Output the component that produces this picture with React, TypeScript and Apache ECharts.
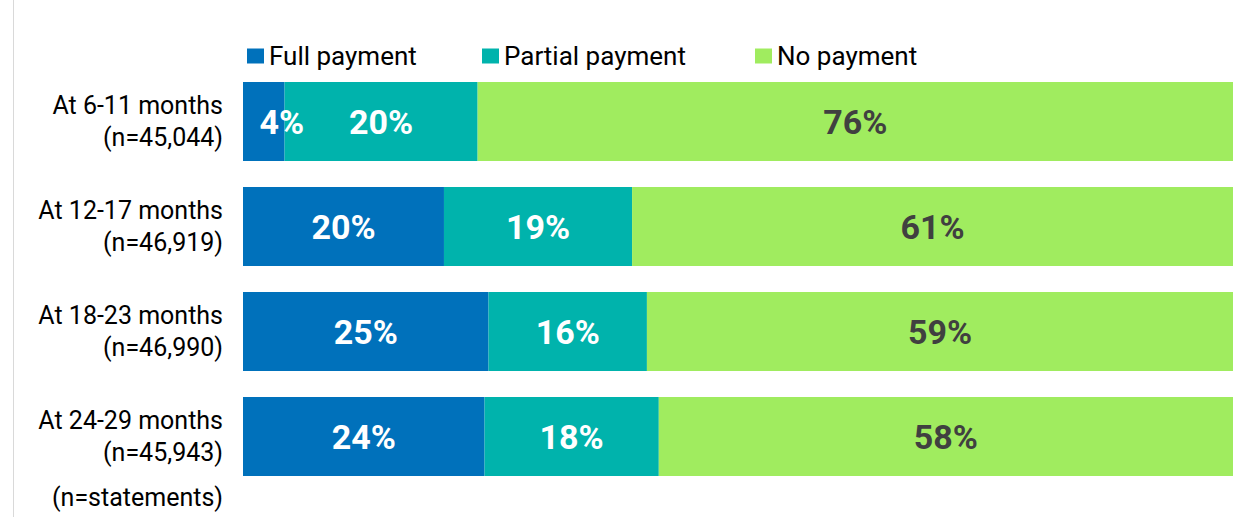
import React, { useEffect, useRef } from "react";
import * as echarts from "echarts";

const categories = [
  "At 6-11 months\n(n=45,044)",
  "At 12-17 months\n(n=46,919)",
  "At 18-23 months\n(n=46,990)",
  "At 24-29 months\n(n=45,943)",
];
const seriesNames = ["Full payment", "Partial payment", "No payment"];
const fullPayment = [4.2, 20.3, 24.8, 24.4];
const partialPayment = [19.5, 19.0, 16.0, 17.6];
const noPayment = [76.3, 60.7, 59.2, 58.0];
const footnote = "(n=statements)";

const colors = ["#0071BB", "#00B3AC", "#A0EC5F"];
const labelColors = ["#FFFFFF", "#FFFFFF", "#404040"];
const legendLefts = [242, 477, 750];
const FONT = "Roboto, 'Liberation Sans', sans-serif";

export default function App() {
  const ref = useRef<HTMLDivElement>(null);
  useEffect(() => {
    if (!ref.current) return;
    const chart = echarts.init(ref.current, null, { renderer: "svg" });
    const values = [fullPayment, partialPayment, noPayment];
    chart.setOption({
      animation: false,
      backgroundColor: "#FFFFFF",
      textStyle: { fontFamily: FONT },
      legend: seriesNames.map((name, i) => ({
        left: legendLefts[i],
        top: 38,
        icon: "rect",
        itemWidth: 17,
        itemHeight: 15,
        textStyle: {
          fontSize: 26,
          color: "#000000",
          fontFamily: FONT,
          padding: [0, 0, 4, 0],
        },
        data: [name],
      })),
      grid: { left: 243, right: 16, top: 69, bottom: 28, containLabel: false },
      xAxis: { type: "value", min: 0, max: 100, show: false },
      yAxis: {
        type: "category",
        data: categories,
        inverse: true,
        axisLine: { show: false },
        axisTick: { show: false },
        splitLine: { show: false },
        axisLabel: {
          fontSize: 25,
          lineHeight: 32,
          color: "#000000",
          margin: 20,
          align: "right",
          fontFamily: FONT,
        },
      },
      graphic: [
        {
          type: "line",
          shape: { x1: 13.5, y1: 0, x2: 13.5, y2: 517 },
          style: { stroke: "#D9D9D9", lineWidth: 1 },
        },
        {
          type: "text",
          x: 223,
          y: 497,
          style: {
            text: footnote,
            fontSize: 25,
            fontFamily: FONT,
            fill: "#000000",
            align: "right",
            verticalAlign: "middle",
          },
        },
      ],
      series: seriesNames.map((name, si) => ({
        name,
        type: "bar",
        stack: "total",
        barWidth: 79,
        itemStyle: { color: colors[si] },
        label: {
          show: true,
          position: "inside",
          color: labelColors[si],
          fontSize: 34,
          fontWeight: "bold",
          fontFamily: FONT,
          formatter: (p: any) => Math.round(p.value) + "%",
        },
        data: values[si].map((v, i) =>
          si === 0 && i === 0 ? { value: v, label: { offset: [18, 0] } } : v
        ),
      })),
    });
    return () => chart.dispose();
  }, []);
  return (
    <div
      ref={ref}
      style={{ position: "fixed", left: 0, top: 0, width: 1249, height: 517 }}
    />
  );
}
